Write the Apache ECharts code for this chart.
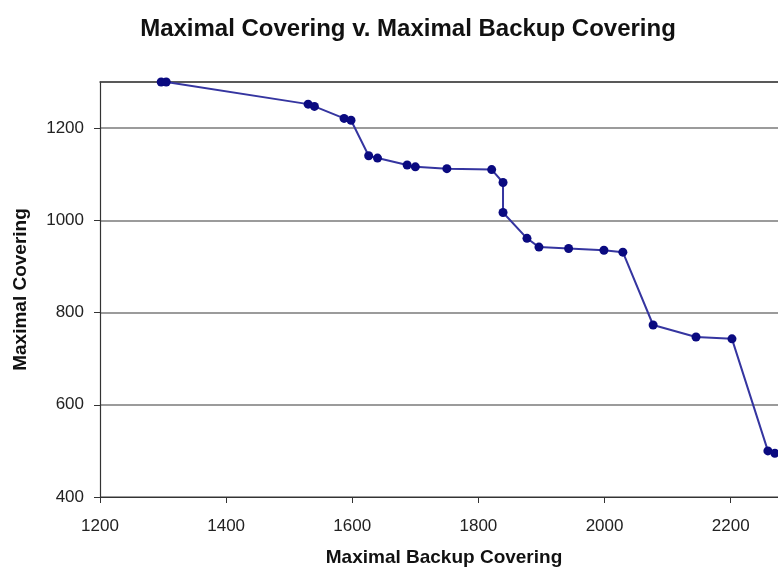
<!DOCTYPE html>
<html>
<head>
<meta charset="utf-8">
<script src="https://cdn.jsdelivr.net/npm/echarts@6/dist/echarts.min.js"></script>
<style>html,body{margin:0;padding:0;background:#fff}#c{width:778px;height:572px}</style>
</head>
<body>
<div id="c"></div>
<script>
var backupCovering = [1297, 1305, 1530, 1540, 1587, 1598, 1626, 1640, 1687, 1700, 1750, 1821, 1839, 1839, 1877, 1896, 1943, 1999, 2029, 2077, 2145, 2202, 2259, 2270];
var maximalCovering = [1300, 1300, 1252, 1247, 1221, 1217, 1140, 1135, 1120, 1116, 1112, 1110, 1082, 1017, 961, 942, 939, 935, 931, 773, 747, 743, 500, 495];
var xTicks = [1200, 2275, 200];
var yTicks = [400, 1300, 200];

var data = backupCovering.map(function (x, i) { return [x, maximalCovering[i]]; });
var chart = echarts.init(document.getElementById('c'));
var font = 'Liberation Sans, Arial, sans-serif';
chart.setOption({
  animation: false,
  backgroundColor: '#fff',
  title: {
    text: 'Maximal Covering v. Maximal Backup Covering',
    left: 403, top: 12, textAlign: 'center',
    textStyle: { fontFamily: font, fontWeight: 'bold', fontSize: 24, color: '#111' }
  },
  grid: { left: 100, top: 82, bottom: 72, right: 0 },
  xAxis: [{
    type: 'value', min: xTicks[0], max: xTicks[1], interval: xTicks[2],
    name: 'Maximal Backup Covering', nameLocation: 'middle', nameGap: 51,
    nameTextStyle: { fontFamily: font, fontWeight: 'bold', fontSize: 19, color: '#111', padding: [0, 0, 0, 10] },
    axisLine: { show: true, lineStyle: { color: '#333', width: 1.2 } },
    axisTick: { show: true, length: 6, inside: false, lineStyle: { color: '#333' } },
    axisLabel: { fontFamily: font, fontSize: 17, color: '#222', margin: 21, showMaxLabel: false,
      formatter: function (v) { return String(v); } },
    splitLine: { show: false }
  }, {
    type: 'value', position: 'top', min: xTicks[0], max: xTicks[1],
    axisLine: { show: true, lineStyle: { color: '#444', width: 1.5 } },
    axisTick: { show: false }, axisLabel: { show: false }, splitLine: { show: false }
  }],
  yAxis: {
    type: 'value', min: yTicks[0], max: yTicks[1], interval: yTicks[2],
    name: 'Maximal Covering', nameLocation: 'middle', nameGap: 70,
    nameTextStyle: { fontFamily: font, fontWeight: 'bold', fontSize: 19, color: '#111' },
    axisLine: { show: true, lineStyle: { color: '#333', width: 1.2 } },
    axisTick: { show: true, length: 6, inside: false, lineStyle: { color: '#333' } },
    axisLabel: { fontFamily: font, fontSize: 17, color: '#222', margin: 16, showMaxLabel: false,
      formatter: function (v) { return String(v); } },
    splitLine: { show: true, lineStyle: { color: '#7a7a7a', width: 1.5 } }
  },
  series: [{
    type: 'line', data: data, xAxisIndex: 0,
    symbol: 'circle', symbolSize: 9,
    itemStyle: { color: '#0a0a80' },
    lineStyle: { color: '#3535a0', width: 2 }
  }]
});
</script>
</body>
</html>
